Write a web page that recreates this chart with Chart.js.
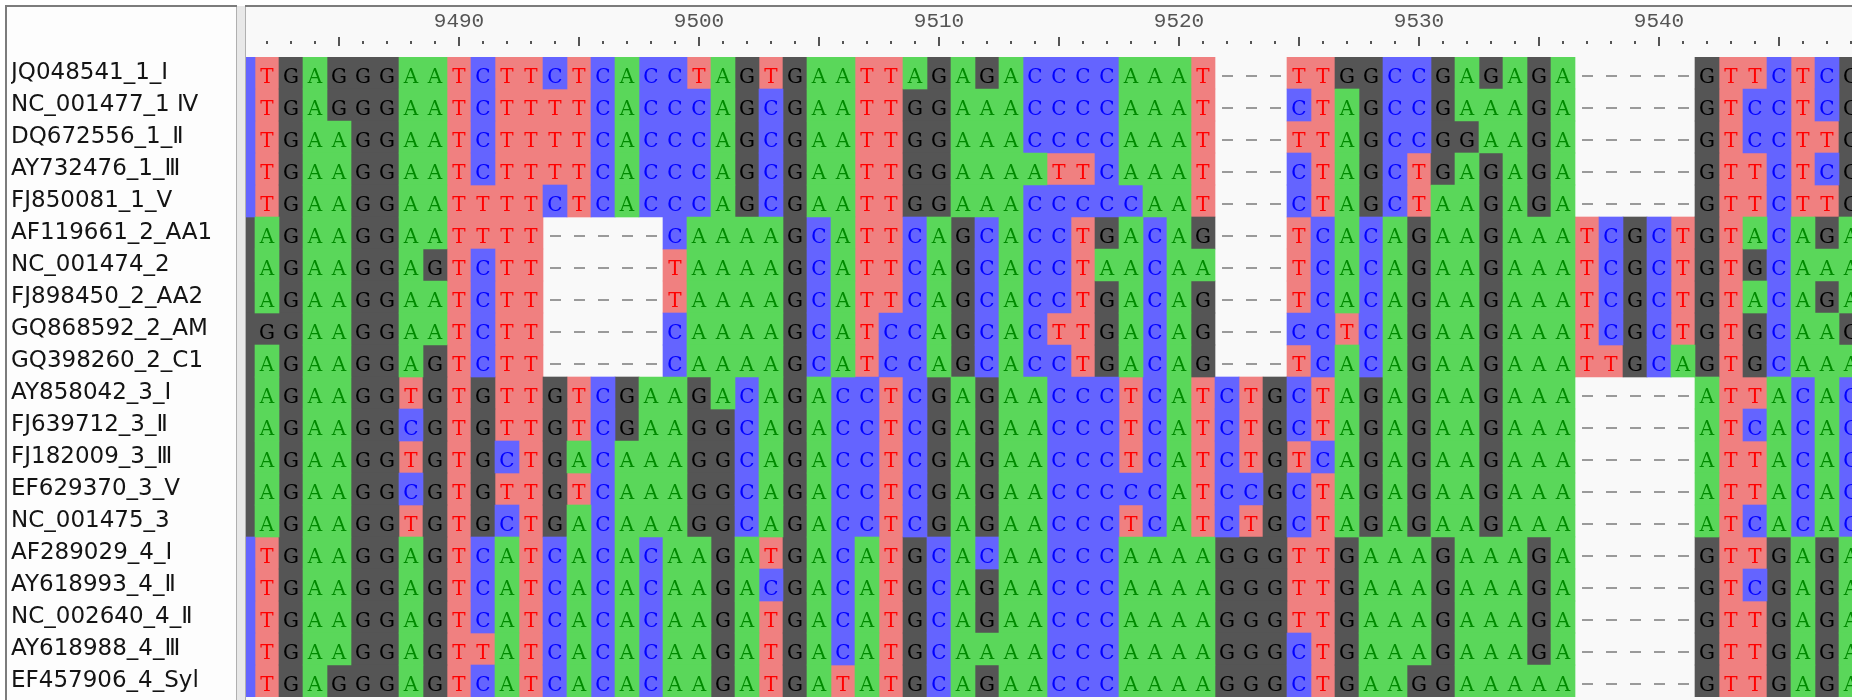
<!DOCTYPE html>
<html>
<head>
<meta charset="utf-8">
<script src="https://cdn.jsdelivr.net/npm/chart.js@4.4.0/dist/chart.umd.min.js"></script>
<style>
  html, body { margin: 0; padding: 0; background: #fff; }
  #wrap { width: 1852px; height: 700px; }
</style>
</head>
<body>
<div id="wrap"><canvas id="alignChart" width="1852" height="700"></canvas></div>
<script>
// first alignment column shown (partly hidden under the left edge)
const firstPos = 9481;

const names = [
  'JQ048541_1_I', 'NC_001477_1 Ⅳ', 'DQ672556_1_Ⅱ', 'AY732476_1_Ⅲ', 'FJ850081_1_V',
  'AF119661_2_AA1', 'NC_001474_2', 'FJ898450_2_AA2', 'GQ868592_2_AM', 'GQ398260_2_C1',
  'AY858042_3_I', 'FJ639712_3_Ⅱ', 'FJ182009_3_Ⅲ', 'EF629370_3_V', 'NC_001475_3',
  'AF289029_4_I', 'AY618993_4_Ⅱ', 'NC_002640_4_Ⅱ', 'AY618988_4_Ⅲ', 'EF457906_4_Syl'
];

// one string per sequence, positions 9481..9548
const seqs = [
  'CTGAGGGAATCTTCTCACCTAGTGAATTAGAGACCCCAAAT---TTGGCCGAGAGA-----GTTCTCG',
  'CTGAGGGAATCTTTTCACCCAGCGAATTGGAAACCCCAAAT---CTAGCCGAAAGA-----GTCCTCG',
  'CTGAAGGAATCTTTTCACCCAGCGAATTGGAAACCCCAAAT---TTAGCCGGAAGA-----GTCCTTG',
  'CTGAAGGAATCTTTTCACCCAGCGAATTGGAAAATTCAAAT---CTAGCTGAGAGA-----GTTCTCG',
  'CTGAAGGAATTTTCTCACCCAGCGAATTGGAAACCCCCAAT---CTAGCTAAGAGA-----GTTCTTG',
  'GAGAAGGAATTTT-----CAAAAGCATTCAGCACCTGACAG---TCACAGAAGAAATCGCTGTACAGA',
  'GAGAAGGAGTCTT-----TAAAAGCATTCAGCACCTAACAA---TCACAGAAGAAATCGCTGTGCAAA',
  'GAGAAGGAATCTT-----TAAAAGCATTCAGCACCTGACAG---TCACAGAAGAAATCGCTGTACAGA',
  'GGGAAGGAATCTT-----CAAAAGCATCCAGCACTTGACAG---CCTCAGAAGAAATCGCTGTGCAAG',
  'GAGAAGGAGTCTT-----CAAAAGCATCCAGCACCTGACAG---TCACAGAAGAAATTGCAGTGCAAA',
  'GAGAAGGTGTGTTGTCGAAGACAGACCTCGAGAACCCTCATCTGCTAGAGAAGAAA-----ATTACAC',
  'GAGAAGGCGTGTTGTCGAAGGCAGACCTCGAGAACCCTCATCTGCTAGAGAAGAAA-----ATCACAC',
  'GAGAAGGTGTGCTGACAAAGGCAGACCTCGAGAACCCTCATCTGTCAGAGAAGAAA-----ATTACAC',
  'GAGAAGGCGTGTTGTCAAAGGCAGACCTCGAGAACCCCCATCCGCTAGAGAAGAAA-----ATTACAC',
  'GAGAAGGTGTGCTGACAAAGGCAGACCTCGAGAACCCTCATCTGCTAGAGAAGAAA-----ATCACAC',
  'CTGAAGGAGTCATCACACAAGATGACATGCACAACCCAAAAGGGTTGAAAGAAAGA-----GTTGAGA',
  'CTGAAGGAGTCATCACACAAGACGACATGCAGAACCCAAAAGGGTTGAAAGAAAGA-----GTCGAGA',
  'CTGAAGGAGTCATCACACAAGATGACATGCAGAACCCAAAAGGGTTGAAAGAAAGA-----GTTGAGA',
  'CTGAAGGAGTTATCACACAAGATGACATGCAAAACCCAAAAGGGCTGAAAGAAAGA-----GTTGAGA',
  'CTGAGGGAGTCATCACACAAGATGATATGCAGAACCCAAAAGGGCTGAAGGAAAAA-----GTTGAGA'
];

const bases = ['A', 'C', 'G', 'T', '-'];

// visible window of the ruler
const viewStart = 9481.125;
const viewEnd = 9548.0417;

const cellColors = { A: '#5ad75a', C: '#6464ff', G: '#555555', T: '#f08080', '-': '#f9f9f9' };
const letterColors = { A: '#008a00', C: '#0000ff', G: '#000000', T: '#ff0000' };

// runs of the same base in a row become one floating bar
function runsFor(base) {
  const out = [];
  seqs.forEach((s, r) => {
    let i = 0;
    while (i < s.length) {
      if (s[i] !== base) { i++; continue; }
      let j = i;
      while (j + 1 < s.length && s[j + 1] === base) j++;
      out.push({ y: names[r], x: [firstPos + i - 0.5, firstPos + j + 0.5] });
      i = j + 1;
    }
  });
  return out;
}

const panelPlugin = {
  id: 'panels',
  beforeDraw(chart) {
    const { ctx, chartArea: a, width, height } = chart;
    ctx.save();
    ctx.fillStyle = '#ffffff';
    ctx.fillRect(0, 0, width, height);
    ctx.fillStyle = '#fdfdfd';
    ctx.fillRect(6, 6, 231, height - 6);
    ctx.fillStyle = '#e8e8e8';
    ctx.fillRect(237, 6, a.left - 237, height - 6);
    ctx.fillStyle = '#f9f9f9';
    ctx.fillRect(a.left, 6, width - a.left, height - 6);
    ctx.fillStyle = '#7c7c7c';
    ctx.fillRect(5, 5, 232, 2);
    ctx.fillRect(5, 5, 2, height - 5);
    ctx.fillRect(a.left - 1, 5, width - a.left + 1, 2);
    ctx.fillStyle = '#b0b0b0';
    ctx.fillRect(236, 7, 1, height - 7);
    ctx.fillRect(a.left - 1, 7, 1, height - 7);
    ctx.restore();
  }
};

const letterPlugin = {
  id: 'letters',
  afterDatasetsDraw(chart) {
    const { ctx, chartArea: a, scales: { x, y } } = chart;
    ctx.save();
    ctx.beginPath();
    ctx.rect(a.left, a.top, a.right - a.left, a.bottom - a.top);
    ctx.clip();
    ctx.font = '20px "DejaVu Serif"';
    ctx.textAlign = 'center';
    ctx.textBaseline = 'alphabetic';
    seqs.forEach((s, r) => {
      const cy = y.getPixelForValue(r);
      for (let i = 0; i < s.length; i++) {
        const cx = x.getPixelForValue(firstPos + i);
        if (cx < a.left) continue;
        const b = s[i];
        if (b === '-') {
          ctx.fillStyle = '#9a9a9a';
          ctx.fillRect(Math.round(cx - 5), Math.round(cy + 2), 11, 2);
        } else {
          ctx.fillStyle = letterColors[b];
          ctx.fillText(b, cx, cy + 10);
        }
      }
    });
    ctx.restore();
  }
};

// small ruler marks: dot each column, longer mark every 5
const rulerPlugin = {
  id: 'ruler',
  afterDraw(chart) {
    const { ctx, chartArea: a, scales: { x } } = chart;
    ctx.save();
    ctx.fillStyle = '#555555';
    for (let p = Math.ceil(x.min); p <= Math.floor(x.max); p++) {
      const px = Math.round(x.getPixelForValue(p));
      if (p % 5 === 0) ctx.fillRect(px - 1, a.top - 20, 2, 9);
      else ctx.fillRect(px - 1, a.top - 16, 2, 3);
    }
    ctx.restore();
  }
};

const ctx = document.getElementById('alignChart').getContext('2d');
new Chart(ctx, {
  type: 'bar',
  data: {
    labels: names,
    datasets: bases.map(b => ({
      label: b,
      data: runsFor(b),
      backgroundColor: cellColors[b],
      borderWidth: 0,
      borderRadius: 0,
      barPercentage: 1,
      categoryPercentage: 1,
      grouped: false
    }))
  },
  options: {
    indexAxis: 'y',
    responsive: false,
    animation: false,
    devicePixelRatio: 1,
    layout: { padding: { left: 11, top: 0, right: 0, bottom: 3 } },
    plugins: { legend: { display: false }, tooltip: { enabled: false } },
    scales: {
      x: {
        type: 'linear',
        position: 'top',
        min: viewStart,
        max: viewEnd,
        grid: { display: false, drawTicks: false },
        border: { display: false },
        ticks: {
          stepSize: 10,
          autoSkip: false,
          maxRotation: 0,
          padding: 23,
          color: '#555555',
          font: { family: 'Liberation Mono', size: 21 },
          callback: v => (Number.isInteger(v) && v % 10 === 0) ? String(v) : ''
        },
        afterFit: s => { s.height = 57; s.paddingLeft = 0; s.paddingRight = 0; }
      },
      y: {
        type: 'category',
        position: 'left',
        grid: { display: false, drawTicks: false },
        border: { display: false },
        ticks: {
          crossAlign: 'far',
          padding: 0,
          autoSkip: false,
          color: '#141414',
          font: { family: 'DejaVu Sans', size: 23, lineHeight: 1 }
        },
        afterFit: s => { s.width = 235; s.paddingTop = 0; s.paddingBottom = 0; }
      }
    }
  },
  plugins: [panelPlugin, letterPlugin, rulerPlugin]
});
</script>
</body>
</html>
